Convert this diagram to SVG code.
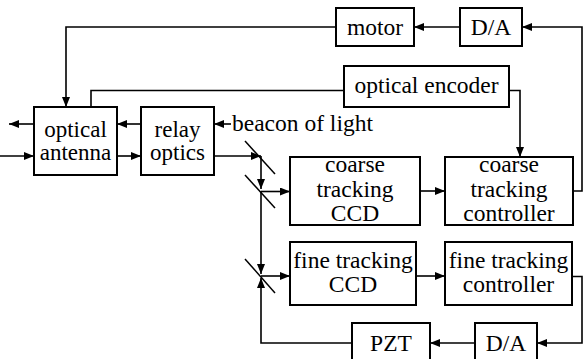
<svg xmlns="http://www.w3.org/2000/svg" width="585" height="359" viewBox="0 0 585 359">
<defs>
<marker id="ah" markerUnits="userSpaceOnUse" markerWidth="11" markerHeight="9" refX="10" refY="4" orient="auto">
<path d="M0,0 L10,4 L0,8 z" fill="#000"/>
</marker>
<style>
.box{fill:#fff;stroke:#000;stroke-width:2}
text{font-family:'Liberation Serif','Times New Roman','DejaVu Serif',serif;font-size:23.5px;text-anchor:middle;fill:#000}
text.s{font-size:23px}
.c{fill:none;stroke:#000;stroke-width:1.6}
.a{marker-end:url(#ah)}
.m{stroke:#000;stroke-width:1.5}
</style>
</defs>
<rect width="585" height="359" fill="#fff"/>
<g id="connectors">
<path class="c a" d="M460,27 L414,27"/>
<path class="c a" d="M336,27 L66,27 L66,107"/>
<path class="c a" d="M573,191 L582,191 L582,27 L522,27"/>
<path class="c" d="M91,107 L91,90.5 L344,90.5"/>
<path class="c a" d="M509,90.5 L520,90.5 L520,157"/>
<path class="c a" d="M34,124 L9,124"/>
<path class="c a" d="M0,156 L34,156"/>
<path class="c a" d="M141,124 L117,124"/>
<path class="c a" d="M117,156 L141,156"/>
<path class="c a" d="M231,124 L214,124"/>
<path class="c a" d="M214,156 L261,156"/>
<path class="c a" d="M261,156 L261,189"/>
<path class="c a" d="M261,191 L261,274"/>
<path class="c a" d="M261,191.5 L290,191.5"/>
<path class="c a" d="M261,276 L290,276"/>
<path class="c a" d="M420,191 L445,191"/>
<path class="c a" d="M416,276 L445,276"/>
<path class="c a" d="M572,276.5 L582,276.5 L582,343 L537,343"/>
<path class="c a" d="M475,343 L430,343"/>
<path class="c a" d="M352,343 L261,343 L261,278"/>
<line class="m" x1="245" y1="141" x2="275" y2="174"/>
<line class="m" x1="245" y1="175" x2="275" y2="208"/>
<line class="m" x1="245" y1="259" x2="275" y2="293"/>
</g>
<g font-family="Liberation Serif, serif">
<g id="motor"><rect class="box" x="336" y="8" width="78" height="38"/><text x="375" y="35">motor</text></g>
<g id="da-top"><rect class="box" x="460" y="8" width="62" height="38"/><text x="491" y="35">D/A</text></g>
<g id="encoder"><rect class="box" x="344" y="66" width="165" height="41"/><text x="426.5" y="93">optical encoder</text></g>
<g id="antenna"><rect class="box" x="34" y="107" width="83" height="68"/><text class="s" x="75.5" y="137">optical</text><text class="s" x="75.5" y="160">antenna</text></g>
<g id="relay"><rect class="box" x="141" y="107" width="73" height="68"/><text class="s" x="177.5" y="137">relay</text><text class="s" x="177.5" y="160">optics</text></g>
<g id="beacon"><text x="232" y="131" style="text-anchor:start">beacon of light</text></g>
<g id="coarse-ccd"><rect class="box" x="290" y="157" width="130" height="68"/><text x="355" y="172">coarse</text><text x="355" y="197">tracking</text><text x="355" y="221">CCD</text></g>
<g id="coarse-ctrl"><rect class="box" x="445" y="157" width="128" height="68"/><text x="509" y="172">coarse</text><text x="509" y="197">tracking</text><text x="509" y="221">controller</text></g>
<g id="fine-ccd"><rect class="box" x="290" y="242" width="126" height="63"/><text x="353" y="268">fine tracking</text><text x="353" y="292">CCD</text></g>
<g id="fine-ctrl"><rect class="box" x="445" y="242" width="127" height="63"/><text x="508.5" y="268">fine tracking</text><text x="508.5" y="292">controller</text></g>
<g id="pzt"><rect class="box" x="352" y="323" width="78" height="45"/><text x="391" y="351">PZT</text></g>
<g id="da-bottom"><rect class="box" x="475" y="323" width="62" height="45"/><text x="506" y="351">D/A</text></g>
</g>
</svg>
